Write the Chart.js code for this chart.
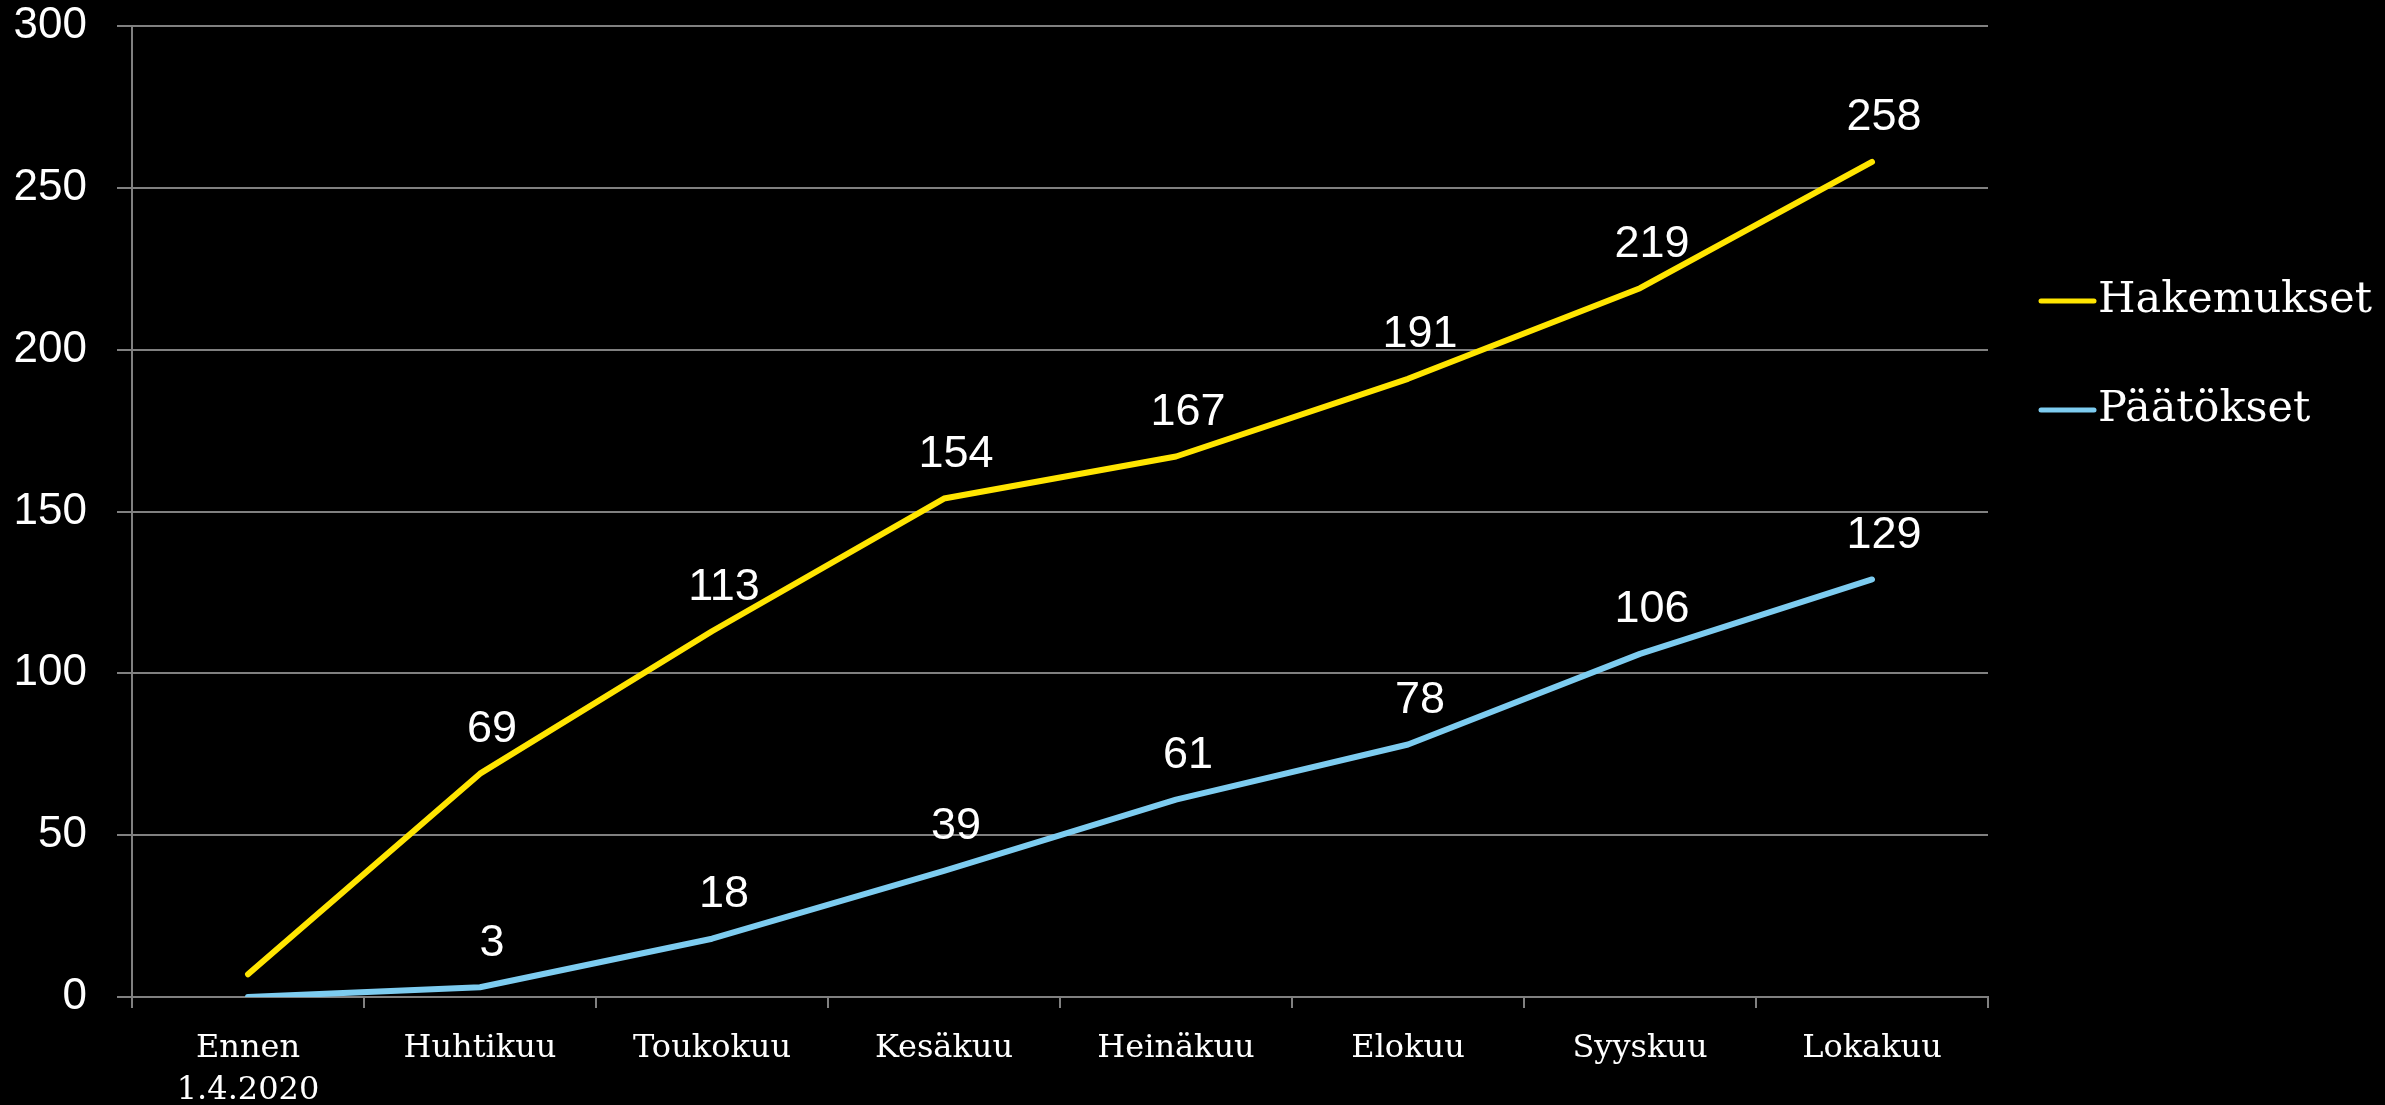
<!DOCTYPE html>
<html>
<head>
<meta charset="utf-8">
<script src="https://cdn.jsdelivr.net/npm/chart.js@4/dist/chart.umd.min.js"></script>
<style>
  html, body { margin: 0; padding: 0; background: #000; }
  #wrap { width: 2385px; height: 1105px; background: #000; }
</style>
</head>
<body>
<div id="wrap"><canvas id="c" width="2385" height="1105"></canvas></div>
<script>
const categories = [["Ennen", "1.4.2020"], "Huhtikuu", "Toukokuu", "Kesäkuu", "Heinäkuu", "Elokuu", "Syyskuu", "Lokakuu"];
const hakemukset = [7, 69, 113, 154, 167, 191, 219, 258];
const paatokset = [0, 3, 18, 39, 61, 78, 106, 129];
const seriesNames = ["Hakemukset", "Päätökset"];
const yTicks = [0, 50, 100, 150, 200, 250, 300];

const GRID = '#808080';

const valueLabels = {
  id: 'valueLabels',
  afterDatasetsDraw(chart) {
    const ctx = chart.ctx;
    ctx.save();
    ctx.fillStyle = '#ffffff';
    ctx.font = '45px "Liberation Sans", Arial, sans-serif';
    ctx.textAlign = 'center';
    ctx.textBaseline = 'middle';
    chart.data.datasets.forEach((ds, i) => {
      const meta = chart.getDatasetMeta(i);
      meta.data.forEach((pt, j) => {
        if (j === 0) return;
        ctx.fillText(String(ds.data[j]), pt.x + 12, pt.y - 44);
      });
    });
    ctx.restore();
  }
};

const sideLegend = {
  id: 'sideLegend',
  afterDraw(chart) {
    const ctx = chart.ctx;
    ctx.save();
    const ys = [301, 410];
    chart.data.datasets.forEach((ds, i) => {
      const y = ys[i];
      ctx.strokeStyle = ds.borderColor;
      ctx.lineWidth = 5;
      ctx.lineCap = 'round';
      ctx.beginPath();
      ctx.moveTo(2041, y);
      ctx.lineTo(2094, y);
      ctx.stroke();
      ctx.fillStyle = '#ffffff';
      ctx.font = '43px "DejaVu Serif", serif';
      ctx.textAlign = 'left';
      ctx.textBaseline = 'middle';
      ctx.fillText(ds.label, 2098, y);
    });
    ctx.restore();
  }
};

new Chart(document.getElementById('c'), {
  type: 'line',
  data: {
    labels: categories,
    datasets: [
      {
        label: seriesNames[0],
        data: hakemukset,
        borderColor: '#FFE500',
        borderWidth: 6,
        pointRadius: 0,
        tension: 0,
        borderCapStyle: 'round',
        borderJoinStyle: 'round'
      },
      {
        label: seriesNames[1],
        data: paatokset,
        borderColor: '#7DCCF0',
        borderWidth: 6,
        pointRadius: 0,
        tension: 0,
        borderCapStyle: 'round',
        borderJoinStyle: 'round'
      }
    ]
  },
  options: {
    responsive: false,
    animation: false,
    events: [],
    layout: { padding: { top: 0, right: 397, left: 0, bottom: 0 } },
    plugins: { legend: { display: false }, tooltip: { enabled: false } },
    scales: {
      x: {
        type: 'category',
        offset: true,
        grid: {
          offset: true,
          drawOnChartArea: false,
          drawTicks: true,
          tickLength: 11,
          color: GRID,
          lineWidth: 2
        },
        border: { display: true, color: GRID, width: 2 },
        ticks: {
          color: '#ffffff',
          font: { family: '"DejaVu Serif", serif', size: 32, lineHeight: 1.3 },
          padding: 20,
          maxRotation: 0,
          autoSkip: false
        },
        afterFit(scale) { scale.height = 108; }
      },
      y: {
        min: 0,
        max: 300,
        afterBuildTicks(scale) { scale.ticks = yTicks.map(v => ({ value: v })); },
        grid: {
          color: GRID,
          lineWidth: 2,
          drawTicks: true,
          tickLength: 15
        },
        border: { display: true, color: GRID, width: 2 },
        ticks: {
          color: '#ffffff',
          font: { family: '"Liberation Sans", Arial, sans-serif', size: 44, lineHeight: 1.18 },
          padding: 30
        },
        afterFit(scale) {
          scale.width = 132;
          scale.paddingTop = 26;
          scale.paddingBottom = 26;
        }
      }
    }
  },
  plugins: [valueLabels, sideLegend]
});
</script>
</body>
</html>
